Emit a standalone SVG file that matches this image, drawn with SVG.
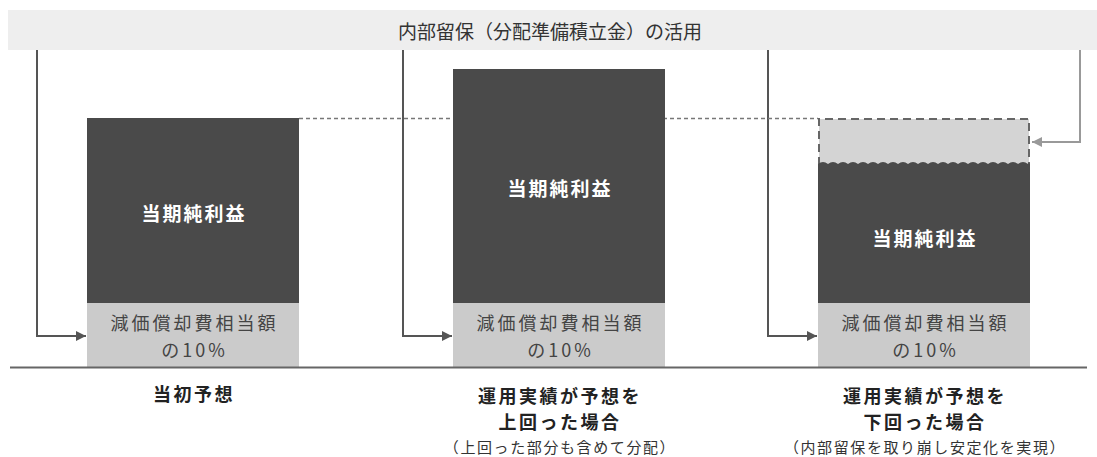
<svg xmlns="http://www.w3.org/2000/svg" width="1097" height="457" viewBox="0 0 1097 457">
<style>
.t{font-family:"Noto Sans CJK JP","Noto Sans",sans-serif;text-anchor:middle;dominant-baseline:central}
.w{fill:#fff;font-size:19px;font-weight:bold;letter-spacing:2px}
.g{fill:#444;font-size:18px;letter-spacing:3px}
.c{fill:#222;font-size:18px;font-weight:bold;letter-spacing:2.5px}
.s{fill:#333;font-size:15px;letter-spacing:1.6px}
.dark{fill:#4a4a4a}
.light{fill:#cbcbcb}
.conn{fill:none;stroke:#555;stroke-width:2}
</style>
<defs>
<marker id="ah" viewBox="0 0 10 10" refX="10" refY="5" markerWidth="6" markerHeight="5" markerUnits="strokeWidth" orient="auto">
<path d="M0,0 L10,5 L0,10 z" fill="#555"/>
</marker>
<marker id="ah2" viewBox="0 0 10 10" refX="10" refY="5" markerWidth="6" markerHeight="5" markerUnits="strokeWidth" orient="auto">
<path d="M0,0 L10,5 L0,10 z" fill="#999"/>
</marker>
</defs>
<rect width="1097" height="457" fill="#fff"/>
<g id="header">
<rect x="8" y="10" width="1089" height="40" fill="#eeeeee"/>
<text class="t" x="550" y="30" fill="#333" font-size="19">内部留保（分配準備積立金）の活用</text>
</g>
<g id="connectors">
<path class="conn" d="M37,50 V336 H86" marker-end="url(#ah)"/>
<path class="conn" d="M403,50 V336 H452" marker-end="url(#ah)"/>
<path class="conn" d="M768,50 V336 H817" marker-end="url(#ah)"/>
<path d="M1080,50 V142 H1032" fill="none" stroke="#999" stroke-width="2" marker-end="url(#ah2)"/>
<path d="M299,118.5 H818" fill="none" stroke="#777" stroke-width="1.3" stroke-dasharray="4,3"/>
</g>
<g id="bar1">
<rect class="dark" x="87" y="118" width="212" height="185"/>
<rect class="light" x="87" y="303" width="212" height="64"/>
<text class="t w" x="194" y="212">当期純利益</text>
<text class="t g" x="194.5" y="322">減価償却費相当額</text>
<text class="t g" x="194.5" y="349">の10%</text>
<text class="t c" x="194" y="393">当初予想</text>
</g>
<g id="bar2">
<rect class="dark" x="453" y="69" width="212" height="234"/>
<rect class="light" x="453" y="303" width="212" height="64"/>
<text class="t w" x="560" y="187">当期純利益</text>
<text class="t g" x="560.5" y="322">減価償却費相当額</text>
<text class="t g" x="560.5" y="349">の10%</text>
<text class="t c" x="560" y="395">運用実績が予想を</text>
<text class="t c" x="560" y="421">上回った場合</text>
<text class="t s" x="560" y="446">（上回った部分も含めて分配）</text>
</g>
<g id="bar3">
<rect x="819" y="119" width="210" height="46" fill="#d4d4d4"/>
<path d="M819,165 V119 H1029 V165" fill="none" stroke="#666" stroke-width="2" stroke-dasharray="8,5"/>
<path class="dark" d="M818,303 V164 q5,-4 10,0 q5,-4 10,0 q5,-4 10,0 q5,-4 10,0 q5,-4 10,0 q5,-4 10,0 q5,-4 10,0 q5,-4 10,0 q5,-4 10,0 q5,-4 10,0 q5,-4 10,0 q5,-4 10,0 q5,-4 10,0 q5,-4 10,0 q5,-4 10,0 q5,-4 10,0 q5,-4 10,0 q5,-4 10,0 q5,-4 10,0 q5,-4 10,0 q5,-4 10,0 q1,-2 2,0 V303 z"/>
<rect class="light" x="818" y="303" width="212" height="64"/>
<text class="t w" x="925" y="237">当期純利益</text>
<text class="t g" x="925.5" y="322">減価償却費相当額</text>
<text class="t g" x="925.5" y="349">の10%</text>
<text class="t c" x="925" y="395">運用実績が予想を</text>
<text class="t c" x="925" y="421">下回った場合</text>
<text class="t s" x="925" y="446">（内部留保を取り崩し安定化を実現）</text>
</g>
<g id="baseline">
<path d="M10,367.5 H1087" stroke="#666" stroke-width="2" fill="none"/>
</g>
</svg>
